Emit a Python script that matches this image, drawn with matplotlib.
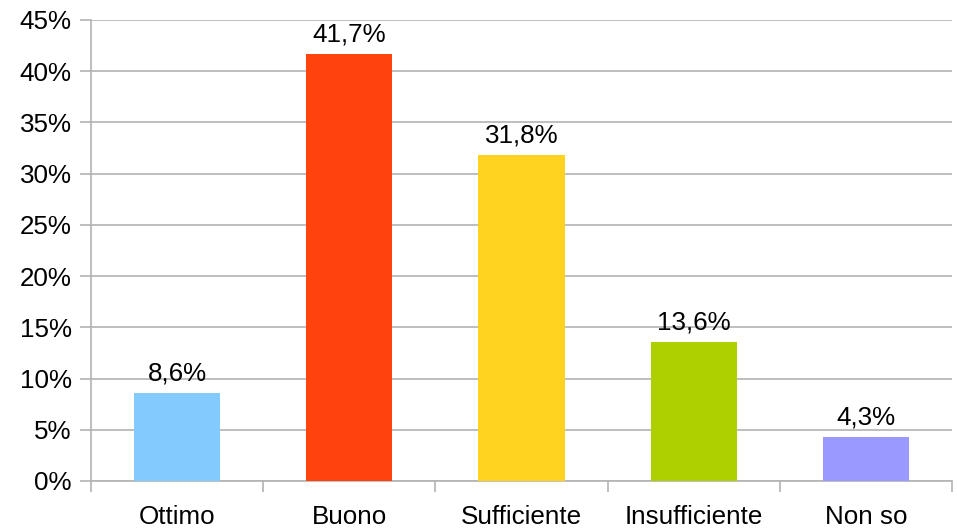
import numpy as np
import matplotlib.pyplot as plt
from matplotlib.ticker import FixedLocator, FuncFormatter

plt.rcParams['font.family'] = ['Liberation Sans', 'DejaVu Sans']

# Data
categories = ['Ottimo', 'Buono', 'Sufficiente', 'Insufficiente', 'Non so']
values = [8.6, 41.7, 31.8, 13.6, 4.3]
colors = ['#83CAFF', '#FF420E', '#FFD320', '#AECF00', '#9999FF']

fig = plt.figure(figsize=(9.57, 5.29), dpi=100)
ax = fig.add_axes([91 / 957, 1 - 481 / 529, (952 - 91) / 957, (481 - 20) / 529])

x = np.arange(len(categories))
bars = ax.bar(x, values, width=0.5, color=colors, zorder=3)

fs = 18.7
for b, v in zip(bars, values):
    ax.annotate(f'{v:.1f}%'.replace('.', ','), (b.get_x() + b.get_width() / 2, v),
                xytext=(0, 5.5), textcoords='offset points',
                ha='center', va='bottom', fontsize=fs, color='black')

ax.set_xlim(-0.5, len(categories) - 0.5)
ax.set_ylim(0, 45)
ax.set_yticks(np.arange(0, 46, 5))
ax.yaxis.set_major_formatter(FuncFormatter(lambda v, p: f'{v:.0f}%'))

# category labels between boundary ticks
ax.set_xticks(x)
ax.set_xticklabels(categories)
ax.xaxis.set_minor_locator(FixedLocator(np.arange(-0.5, len(categories), 1)))
ax.tick_params(axis='x', which='major', length=0, pad=17, labelsize=fs)
ax.tick_params(axis='x', which='minor', length=8, width=1.2, color='#b3b3b3')
ax.tick_params(axis='y', length=8, width=1.2, color='#b3b3b3', pad=6, labelsize=fs)

ax.grid(axis='y', color='#b3b3b3', linewidth=1.2, zorder=0)
for s in ['top', 'right']:
    ax.spines[s].set_visible(False)
for s in ['left', 'bottom']:
    ax.spines[s].set_color('#b3b3b3')
    ax.spines[s].set_linewidth(1.2)

fig.savefig('out.png', dpi=100)
